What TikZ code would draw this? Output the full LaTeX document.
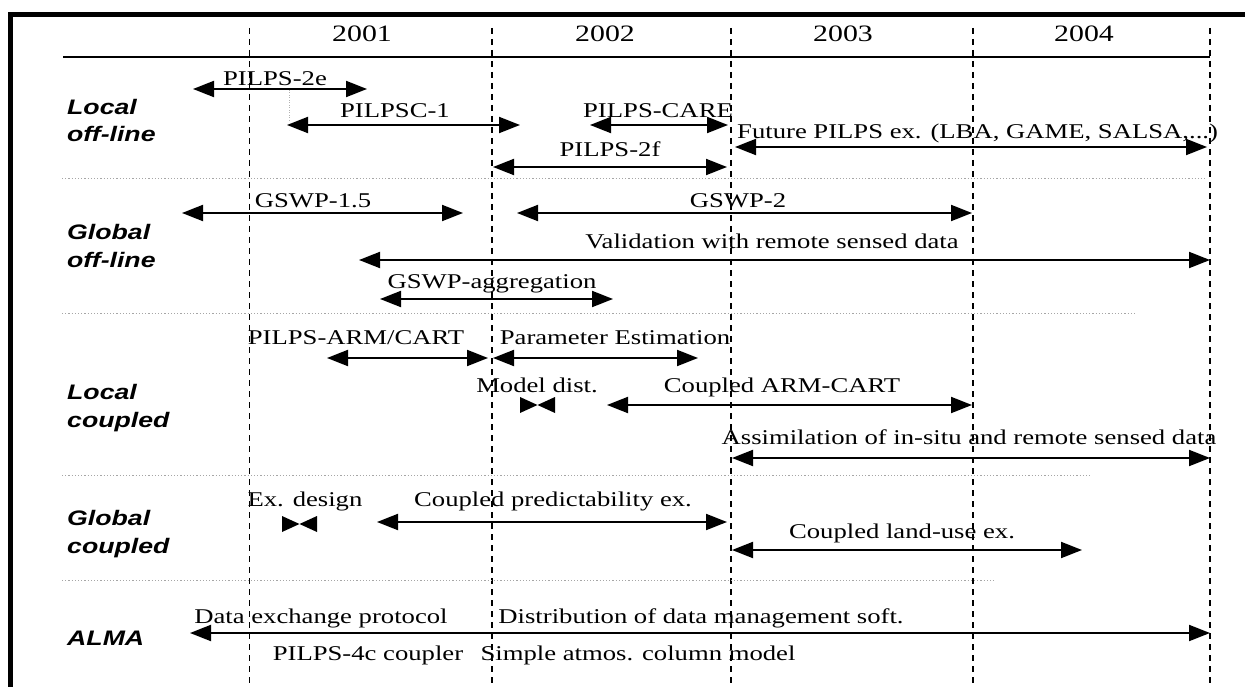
\documentclass[tikz,border=0pt]{standalone}
\usepackage{fontspec}
\setmainfont{Liberation Serif}[FakeStretch=1.27]
\newfontfamily\groupfont{Liberation Sans}[FakeStretch=1.27]
\usetikzlibrary{arrows.meta}

\tikzset{
  frame/.style={line width=5pt},
  headrule/.style={line width=2.4pt},
  yearline/.style={line width=1.4pt, dash pattern=on 6pt off 5pt},
  rowsep/.style={gray!70, line width=0.9pt, dash pattern=on 1.2pt off 2pt},
  guide/.style={gray!60, line width=0.8pt, dash pattern=on 1pt off 1.5pt},
  span/.style={line width=2pt, {Triangle[length=21pt,width=16pt]}-{Triangle[length=21pt,width=16pt]}},
  lbl/.style={anchor=base, inner sep=0pt, font=\fontsize{21}{25}\selectfont},
  year/.style={anchor=base, inner sep=0pt, font=\fontsize{23.5}{28}\selectfont},
  % multi-line group names: the anchor sits on the baseline of the last line
  group/.style={anchor=base west, inner sep=0pt, align=left,
    font=\groupfont\bfseries\itshape\fontsize{21}{27.5}\selectfont},
  bow/.style={fill=black}
}

% a double-headed activity bar: name, y, x start, x end
\newcommand\tlspan[4]{%
  \coordinate (#1-s) at (#3,#2);
  \coordinate (#1-e) at (#4,#2);
  \draw[span] (#1-s) -- (#1-e);}

% a collapsed (zero length) activity: two facing triangles around x = #2
\newcommand\tlbow[3]{% name, x centre, y
  \coordinate (#1) at (#2,#3);
  \fill[bow] ([shift={(-17.5,-8)}]#1) -- (#1) -- ([shift={(-17.5,8)}]#1) -- cycle;
  \fill[bow] ([shift={(17.5,-8)}]#1) -- (#1) -- ([shift={(17.5,8)}]#1) -- cycle;}

\begin{document}
\begin{tikzpicture}[x=1pt, y=-1pt]
\useasboundingbox (0,0) rectangle (1245,687);

% outer frame (top and left edges)
\draw[frame] (1245,14.5) -- (10.5,14.5) -- (10.5,687);

% header rule
\coordinate (hr-s) at (63,57);
\coordinate (hr-e) at (1210,57);
\draw[headrule] (hr-s) -- (hr-e);

% year boundaries
\foreach \x in {249.5,492,731,973,1210}
  \draw[yearline] (\x,28) -- (\x,687);

% year headings
\node[year] (y2001) at (362,42) {2001};
\node[year] (y2002) at (605,42) {2002};
\node[year] (y2003) at (843,42) {2003};
\node[year] (y2004) at (1084,42) {2004};

% row separators
\draw[rowsep] (62,178) -- (1205,178);
\draw[rowsep] (62,313) -- (1135,313);
\draw[rowsep] (62,475) -- (1090,475);
\draw[rowsep] (62,580) -- (995,580);

% group labels
\node[group] (g1) at (67,142) {Local\\off-line};
\node[group] (g2) at (67,267) {Global\\off-line};
\node[group] (g3) at (67,427) {Local\\coupled};
\node[group] (g4) at (67,553) {Global\\coupled};
\node[group] (g5) at (67,645) {ALMA};

% ---- Local off-line
\node[lbl] (t1) at (275,86) {PILPS-2e};
\tlspan{a1}{89}{193}{367}
\node[lbl] (t2) at (395,118) {PILPSC-1};
\tlspan{a2}{125}{287}{520}
\coordinate (gd-s) at (289,90);
\coordinate (gd-e) at (289,122);
\draw[guide] (gd-s) -- (gd-e);
\node[lbl] (t3) at (658,118) {PILPS-CARE};
\tlspan{a3}{125}{590}{728}
\node[lbl, anchor=base west] (t4) at (737,139) {Future PILPS ex. (LBA, GAME, SALSA,...)};
\tlspan{a4}{147}{735}{1207}
\node[lbl] (t5) at (610,157) {PILPS-2f};
\tlspan{a5}{167}{493}{727}

% ---- Global off-line
\node[lbl] (t6) at (313,208) {GSWP-1.5};
\tlspan{a6}{213}{182}{463}
\node[lbl] (t7) at (738,208) {GSWP-2};
\tlspan{a7}{213}{517}{972}
\node[lbl] (t8) at (772,248) {Validation with remote sensed data};
\tlspan{a8}{260}{359}{1210}
\node[lbl] (t9) at (492,288) {GSWP-aggregation};
\tlspan{a9}{299}{380}{613}

% ---- Local coupled
\node[lbl] (t10) at (356,344) {PILPS-ARM/CART};
\tlspan{a10}{358}{327}{488}
\node[lbl] (t11) at (615,344) {Parameter Estimation};
\tlspan{a11}{358}{493}{698}
\node[lbl] (t12) at (537,392) {Model dist.};
\tlbow{b12}{537.5}{405}
\node[lbl] (t13) at (782,392) {Coupled ARM-CART};
\tlspan{a13}{405}{607}{972}
\node[lbl] (t14) at (969,444) {Assimilation of in-situ and remote sensed data};
\tlspan{a14}{458}{732}{1210}

% ---- Global coupled
\node[lbl] (t15) at (305,506) {Ex. design};
\tlbow{b15}{299.5}{524}
\node[lbl] (t16) at (553,506) {Coupled predictability ex.};
\tlspan{a16}{522}{377}{727}
\node[lbl] (t17) at (902,538) {Coupled land-use ex.};
\tlspan{a17}{550}{732}{1082}

% ---- ALMA
\node[lbl] (t18) at (321,623) {Data exchange protocol};
\node[lbl] (t19) at (701,623) {Distribution of data management soft.};
\tlspan{a18}{633}{190}{1210}
\node[lbl] (t20) at (368,660) {PILPS-4c coupler};
\node[lbl] (t21) at (638,660) {Simple atmos. column model};

\end{tikzpicture}
\end{document}
